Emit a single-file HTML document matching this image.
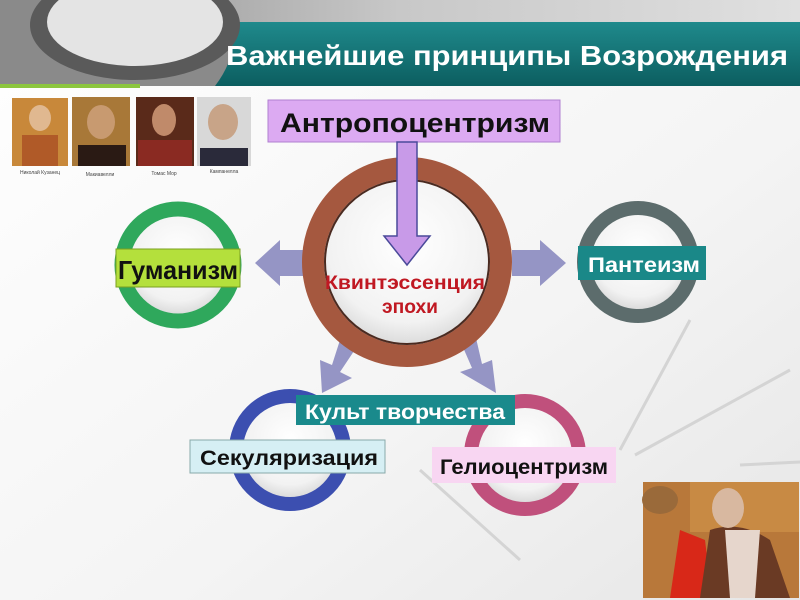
<!DOCTYPE html>
<html><head><meta charset="utf-8"><style>
html,body{margin:0;padding:0;width:800px;height:600px;overflow:hidden;background:#fff}
svg{display:block}
text{font-family:"Liberation Sans","DejaVu Sans",sans-serif;font-weight:bold}
</style></head><body>
<svg width="800" height="600" viewBox="0 0 800 600" xmlns="http://www.w3.org/2000/svg">
<defs>
<radialGradient id="inner" cx="50%" cy="40%" r="60%"><stop offset="0" stop-color="#ffffff"/><stop offset="0.7" stop-color="#f2f2f2"/><stop offset="1" stop-color="#d0d0d0"/></radialGradient>
<linearGradient id="bg" x1="0" y1="0" x2="1" y2="1"><stop offset="0" stop-color="#fff"/><stop offset="0.6" stop-color="#f4f4f4"/><stop offset="1" stop-color="#e6e6e6"/></linearGradient>
<linearGradient id="teal" x1="0" y1="0" x2="0" y2="1"><stop offset="0" stop-color="#1f8a8c"/><stop offset="1" stop-color="#0c5e60"/></linearGradient>
<linearGradient id="top" x1="0" y1="0" x2="1" y2="0"><stop offset="0" stop-color="#8a8a8a"/><stop offset="0.5" stop-color="#c8c8c8"/><stop offset="1" stop-color="#e0e0e0"/></linearGradient>
</defs>
<rect width="800" height="600" fill="url(#bg)"/>
<g stroke="#d4d4d4" stroke-width="3" fill="none">
<line x1="620" y1="450" x2="690" y2="320"/><line x1="635" y1="455" x2="790" y2="370"/><line x1="740" y1="465" x2="800" y2="462"/>
<line x1="520" y1="560" x2="420" y2="470"/>
</g>
<rect x="0" y="0" width="800" height="24" fill="url(#top)"/>
<rect x="0" y="22" width="800" height="64" fill="url(#teal)"/>
<path d="M0 0 H215 Q250 40 215 86 H0 Z" fill="#8a8a8a"/>
<ellipse cx="135" cy="25" rx="105" ry="55" fill="#5a5a5a"/>
<ellipse cx="135" cy="22" rx="88" ry="44" fill="#e4e4e4"/>
<rect x="0" y="84" width="140" height="4" fill="#8cc63e"/>
<text x="226" y="65" font-size="28" fill="#fff" textLength="562" lengthAdjust="spacingAndGlyphs">Важнейшие принципы Возрождения</text>
<rect x="12" y="98" width="56" height="68" fill="#c8883a"/><ellipse cx="40" cy="118" rx="11" ry="13" fill="#e0b890"/><rect x="22" y="135" width="36" height="31" fill="#b05a28"/>
<rect x="72" y="97" width="58" height="69" fill="#a87838"/><ellipse cx="101" cy="122" rx="14" ry="17" fill="#c89a70"/><rect x="78" y="145" width="48" height="21" fill="#2a1a14"/>
<rect x="136" y="97" width="58" height="69" fill="#5a2a1a"/><ellipse cx="164" cy="120" rx="12" ry="16" fill="#c08a6a"/><rect x="138" y="140" width="54" height="26" fill="#8a2a22"/>
<rect x="197" y="97" width="54" height="69" fill="#d8d8d8"/><ellipse cx="223" cy="122" rx="15" ry="18" fill="#c8a488"/><rect x="200" y="148" width="48" height="18" fill="#2a2a3a"/>
<g font-size="5" fill="#444" text-anchor="middle">
<text x="40" y="174" style="font-weight:normal">Николай Кузанец</text><text x="100" y="176" style="font-weight:normal">Макиавелли</text><text x="164" y="175" style="font-weight:normal">Томас Мор</text><text x="224" y="173" style="font-weight:normal">Кампанелла</text>
</g>
<g fill="#9595c5">
<polygon points="305,250 280,250 280,240 255,263 280,286 280,276 305,276"/>
<polygon points="512,250 540,250 540,240 566,263 540,286 540,276 512,276"/>
<polygon points="340,340 332,365 320,360 322,393 352,378 340,372 356,348"/>
<polygon points="462,345 472,368 460,372 496,393 492,360 482,364 476,338"/>
</g>
<circle cx="407" cy="262" r="94" fill="url(#inner)" stroke="#a5583f" stroke-width="22"/>
<circle cx="407" cy="262" r="82" fill="none" stroke="#4a2a20" stroke-width="2"/>
<circle cx="178" cy="265" r="56" fill="url(#inner)" stroke="#2fa85c" stroke-width="15"/>
<circle cx="638" cy="262" r="54" fill="url(#inner)" stroke="#5c6c6c" stroke-width="14"/>
<circle cx="290" cy="450" r="54" fill="url(#inner)" stroke="#3c4fb0" stroke-width="14"/>
<circle cx="525" cy="455" r="54" fill="url(#inner)" stroke="#c0507c" stroke-width="14"/>
<rect x="268" y="100" width="292" height="42" fill="#dcaaf2" stroke="#b080d0"/>
<text x="280" y="132" font-size="27" fill="#111" textLength="270" lengthAdjust="spacingAndGlyphs">Антропоцентризм</text>
<polygon points="397,142 417,142 417,236 430,236 407,265 384,236 397,236" fill="#c89ae8" stroke="#4a4a9a" stroke-width="1.5"/>
<text x="325" y="289" font-size="19" fill="#c01822" textLength="160" lengthAdjust="spacingAndGlyphs">Квинтэссенция</text>
<text x="382" y="313" font-size="19" fill="#c01822" textLength="56" lengthAdjust="spacingAndGlyphs">эпохи</text>
<rect x="116" y="249" width="124" height="38" fill="#b4e03c" stroke="#7aa020"/>
<text x="118" y="279" font-size="26" fill="#111" textLength="120" lengthAdjust="spacingAndGlyphs">Гуманизм</text>
<rect x="578" y="246" width="128" height="34" fill="#1a8888"/>
<text x="588" y="272" font-size="21" fill="#fff" textLength="112" lengthAdjust="spacingAndGlyphs">Пантеизм</text>
<rect x="296" y="395" width="219" height="30" fill="#1a8a8c"/>
<text x="305" y="419" font-size="21" fill="#fff" textLength="200" lengthAdjust="spacingAndGlyphs">Культ творчества</text>
<rect x="190" y="440" width="195" height="33" fill="#d6eff4" stroke="#8aa"/>
<text x="200" y="465" font-size="21" fill="#111" textLength="178" lengthAdjust="spacingAndGlyphs">Секуляризация</text>
<rect x="432" y="447" width="184" height="36" fill="#f8d6f2"/>
<text x="440" y="474" font-size="21" fill="#111" textLength="168" lengthAdjust="spacingAndGlyphs">Гелиоцентризм</text>
<rect x="643" y="482" width="156" height="116" fill="#b8783a"/>
<rect x="690" y="482" width="109" height="50" fill="#c88a44"/>
<path d="M705 540 L712 598 H670 L680 530 Z" fill="#d82818"/>
<path d="M710 530 Q740 520 770 540 L790 598 H700 Z" fill="#6a3a24"/>
<path d="M725 530 L760 530 L755 598 H730 Z" fill="#e6d6cc"/>
<ellipse cx="728" cy="508" rx="16" ry="20" fill="#d8b8a0"/>
<ellipse cx="660" cy="500" rx="18" ry="14" fill="#9a6a3a"/>
</svg>
</body></html>
